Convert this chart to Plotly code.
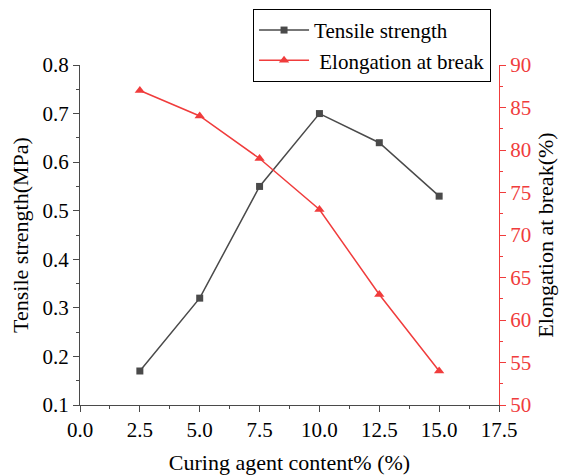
import plotly.graph_objects as go

content = [2.5, 5.0, 7.5, 10.0, 12.5, 15.0]
tensile = [0.17, 0.32, 0.55, 0.70, 0.64, 0.53]
elongation = [87, 84, 79, 73, 63, 54]

gray = "#4a4a4a"
red = "#f03c3c"
font = "Times New Roman, Liberation Serif, DejaVu Serif, serif"

fig = go.Figure()
fig.add_trace(go.Scatter(x=content, y=tensile, name="Tensile strength", mode="lines+markers",
                         line=dict(color=gray, width=1.5),
                         marker=dict(symbol="square", size=7, color=gray)))
fig.add_trace(go.Scatter(x=content, y=elongation, name=" Elongation at break", mode="lines+markers",
                         yaxis="y2", line=dict(color=red, width=1.5),
                         marker=dict(symbol="triangle-up", size=9, color=red)))

tf = dict(family=font, size=21, color="black")
title_font = dict(family=font, size=22, color="black")
fig.update_layout(
    width=563, height=475,
    margin=dict(l=80, r=64, t=65, b=70, autoexpand=False),
    plot_bgcolor="white", paper_bgcolor="white",
    font=dict(family=font, size=21, color="black"),
    showlegend=True,
    legend=dict(x=0.413, y=1.165, xanchor="left", yanchor="top",
                bordercolor="black", borderwidth=1, bgcolor="white",
                font=dict(size=21, family=font, color="black"), tracegroupgap=0, itemwidth=50),
    xaxis=dict(range=[0, 17.5], dtick=2.5, tickformat=".1f", showgrid=False, zeroline=False,
               showline=True, linecolor=gray, linewidth=1.2, ticks="outside", ticklen=6,
               tickcolor=gray, automargin=False, tickfont=tf,
               minor=dict(ticks="outside", ticklen=3, dtick=1.25, tickcolor=gray),
               title=dict(text="Curing agent content% (%)", standoff=15, font=title_font)),
    yaxis=dict(range=[0.1, 0.8], dtick=0.1, tickformat=".1f", showgrid=False, zeroline=False,
               showline=True, linecolor=gray, linewidth=1.2, ticks="outside", ticklen=6,
               tickcolor=gray, automargin=False, tickfont=tf,
               minor=dict(ticks="outside", ticklen=3, dtick=0.05, tickcolor=gray),
               title=dict(text="Tensile strength(MPa)", standoff=7, font=title_font)),
    yaxis2=dict(range=[50, 90], dtick=5, overlaying="y", side="right", showgrid=False,
                zeroline=False, showline=True, linecolor=red, linewidth=1.2, ticks="outside",
                ticklen=6, tickcolor=red, tickfont=dict(family=font, color=red, size=21),
                automargin=False,
                minor=dict(ticks="outside", ticklen=3, dtick=2.5, tickcolor=red),
                title=dict(text="Elongation at break(%)", standoff=7, font=title_font)),
)

fig.write_html("out.html")
